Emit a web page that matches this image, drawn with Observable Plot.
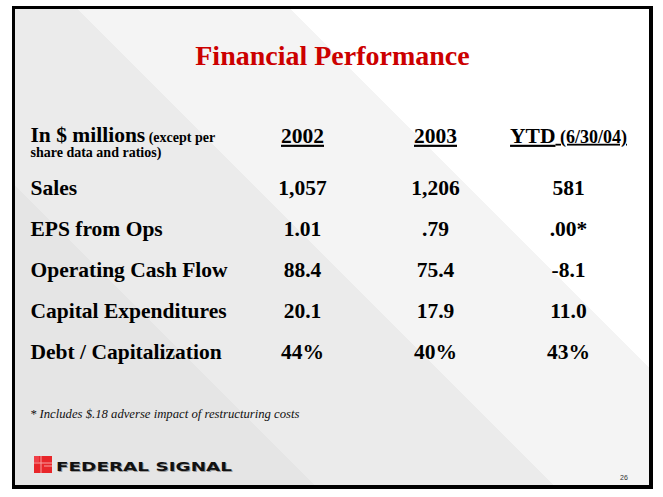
<!DOCTYPE html>
<html><head><meta charset="utf-8">
<script src="https://cdn.jsdelivr.net/npm/d3@7"></script>
<script src="https://cdn.jsdelivr.net/npm/@observablehq/plot@0.6"></script>
<style>
html,body{margin:0;padding:0;width:663px;height:497px;overflow:hidden;background:#fff;}
#slide{position:absolute;left:12px;top:6px;width:634px;height:476px;border-style:solid;border-color:#000;border-width:3px 4px 4px 3px;
background:linear-gradient(45deg,#e5e5e5 0%,#e5e5e5 27%,#ebebeb 27%,#ebebeb 48.5%,#f4f4f4 48.5%,#f4f4f4 67.7%,#fff 67.7%,#fff 100%);}
#chart{position:absolute;left:0;top:0;}
.title{position:absolute;left:12px;width:641px;text-align:center;top:40px;line-height:28px;font:bold 28px "Liberation Serif","Times New Roman",serif;color:#cc0000;white-space:nowrap;}
.foot{position:absolute;left:30px;top:407px;line-height:13px;font:italic 12.7px "Liberation Serif","Times New Roman",serif;color:#111;white-space:nowrap;}
.page{position:absolute;left:620px;top:474px;line-height:7px;font:7px "Liberation Sans",Arial,sans-serif;color:#333;}
#logo{position:absolute;left:30px;top:452px;}
</style></head>
<body>
<div id="slide"></div>
<div class="title">Financial Performance</div>
<div id="chart"></div>
<div class="foot">* Includes $.18 adverse impact of restructuring costs</div>
<svg id="logo" width="210" height="26">
  <rect x="4" y="4" width="18" height="17" fill="#e8262a"/>
  <rect x="4" y="4" width="5" height="6" fill="#f04048"/>
  <line x1="11" y1="4" x2="11" y2="21" stroke="#f7a0a0" stroke-width="1"/>
  <line x1="4" y1="11" x2="22" y2="11" stroke="#f7a0a0" stroke-width="1"/>
  <line x1="14" y1="14" x2="22" y2="14" stroke="#f7a0a0" stroke-width="1"/>
  <text x="27" y="20" textLength="176" lengthAdjust="spacingAndGlyphs" font-family="DejaVu Sans" font-weight="bold" font-size="13" fill="#9a9a9a">FEDERAL SIGNAL</text>
  <text x="26" y="19" textLength="176" lengthAdjust="spacingAndGlyphs" font-family="DejaVu Sans" font-weight="bold" font-size="13" fill="#111">FEDERAL SIGNAL</text>
</svg>
<div class="page">26</div>
<script>
// ---- data ----
const columns = ["2002", "2003", "YTD"];
const columnHeaders = ["2002", "2003", "YTD (6/30/04)"];
const rowLabels = ["Sales", "EPS from Ops", "Operating Cash Flow", "Capital Expenditures", "Debt / Capitalization"];
const values2002 = ["1,057", "1.01", "88.4", "20.1", "44%"];
const values2003 = ["1,206", ".79", "75.4", "17.9", "40%"];
const valuesYTD = ["581", ".00*", "-8.1", "11.0", "43%"];
const unitLabel = "In $ millions";
const unitNote = " (except per";
const unitNote2 = "share data and ratios)";

const series = {"2002": values2002, "2003": values2003, "YTD": valuesYTD};
const cells = rowLabels.flatMap((r, i) => columns.map(c => ({row: r, col: c, value: series[c][i]})));

const serif = "'Liberation Serif', 'Times New Roman', serif";
const big = 21.5;

const svg = Plot.plot({
  width: 663, height: 497,
  marginLeft: 30, marginRight: 0, marginTop: 0, marginBottom: 0,
  style: {background: "none", overflow: "visible"},
  x: {type: "point", domain: columns, range: [302, 568], padding: 0, axis: null},
  y: {type: "point", domain: rowLabels, range: [186, 353], padding: 0, axis: null},
  marks: [
    Plot.text([unitLabel], {text: d => d, frameAnchor: "top-left", textAnchor: "start", dy: 126, fontSize: big, fontWeight: "bold", fontFamily: serif, fill: "#000"}),
    Plot.text([unitNote2], {text: d => d, frameAnchor: "top-left", textAnchor: "start", dy: 147, fontSize: 14, fontWeight: "bold", fontFamily: serif, fill: "#000"}),
    Plot.text(columnHeaders, {x: (d, i) => columns[i], text: d => d, frameAnchor: "top", dy: 127, fontSize: big, fontWeight: "bold", fontFamily: serif, fill: "#000"}),
    Plot.text(rowLabels, {y: d => d, text: d => d, frameAnchor: "left", textAnchor: "start", fontSize: big, fontWeight: "bold", fontFamily: serif, fill: "#000"}),
    Plot.text(cells, {x: "col", y: "row", text: "value", fontSize: big, fontWeight: "bold", fontFamily: serif, fill: "#000"})
  ]
});
document.getElementById("chart").appendChild(svg);

// mixed-size header text and underlines
d3.select(svg).selectAll("text").each(function() {
  const t = d3.select(this);
  const s = this.textContent;
  if (s === unitLabel) {
    t.append("tspan").attr("font-size", 14).text(unitNote);
  } else if (columnHeaders.includes(s)) {
    t.style("text-decoration", "underline");
    if (s.startsWith("YTD")) {
      t.text("YTD");
      t.append("tspan").attr("font-size", 18).text(" (6/30/04)");
    }
  }
});
</script>
</body></html>
